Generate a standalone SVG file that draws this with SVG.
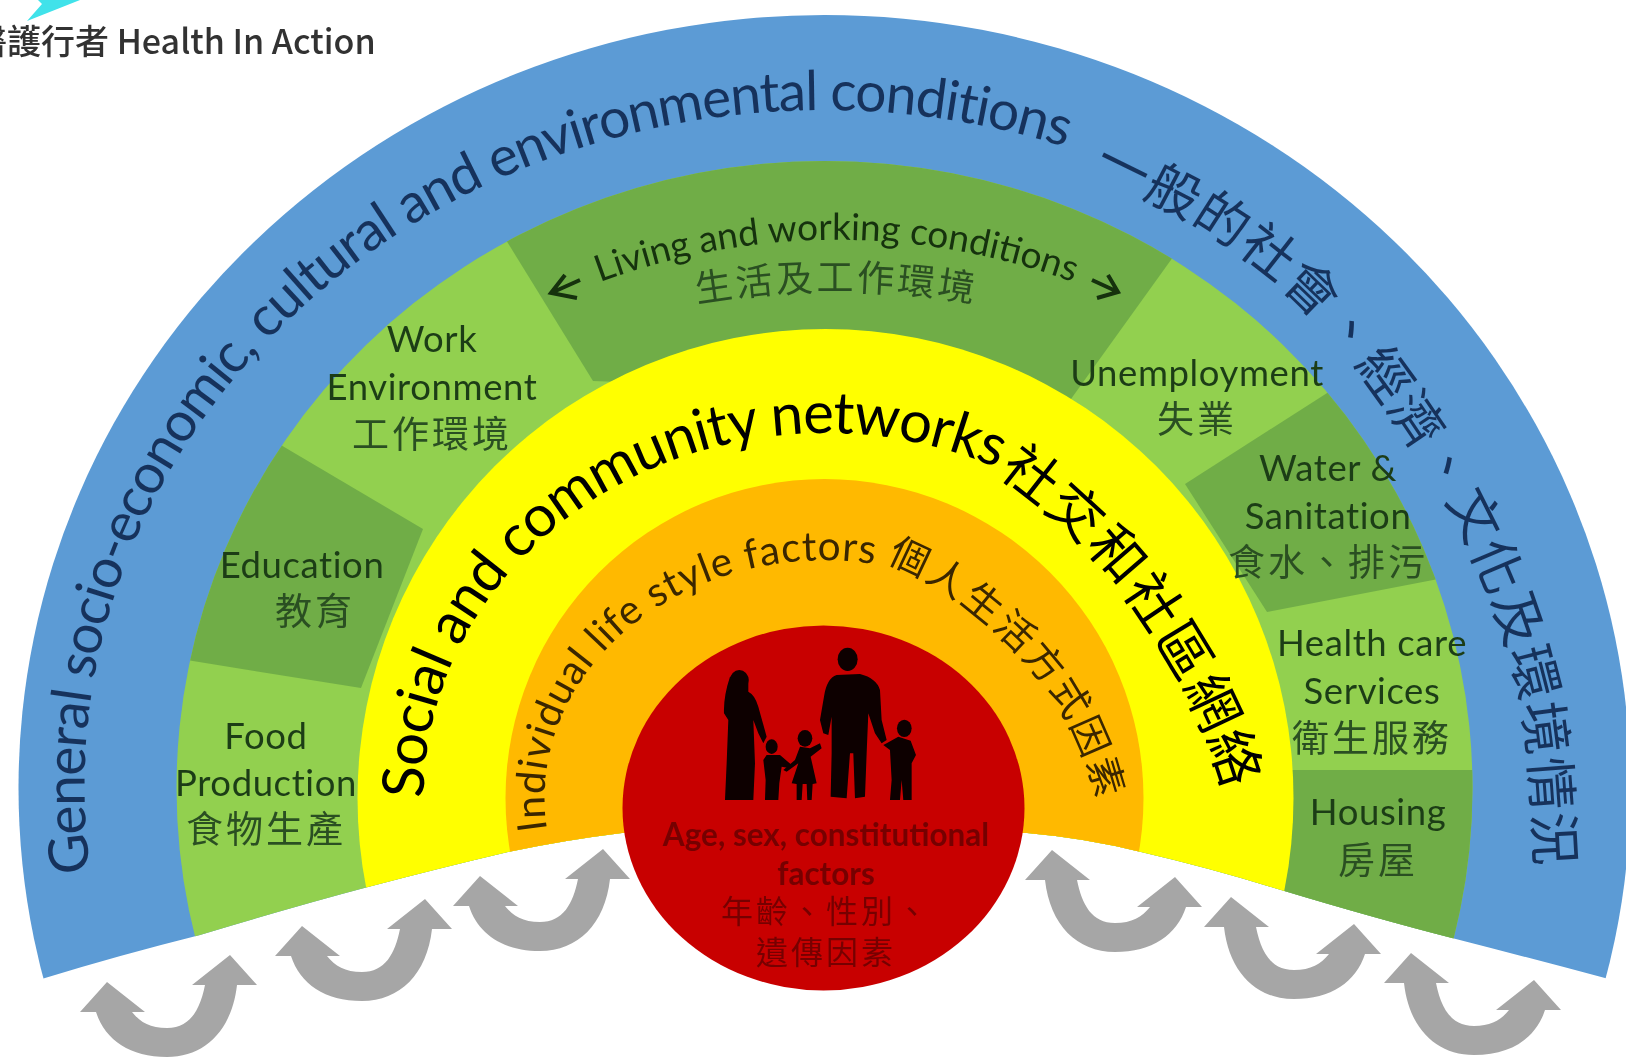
<svg xmlns="http://www.w3.org/2000/svg" width="1626" height="1060" viewBox="0 0 1626 1060">
<style>
text{font-family:"Lato","Noto Sans CJK TC","Noto Sans",sans-serif}
.lbl{font-size:36.5px;fill:#1d3d17;text-anchor:middle;letter-spacing:.6px}
.cjk{font-size:37px;fill:#2b4f22;text-anchor:middle;letter-spacing:3px}
.blue{font-size:55px;fill:#17325c}
.yel{font-size:58px;fill:#000}
.org{font-size:40.5px;fill:#3a2800}
.liv{font-size:37px;fill:#14300f}
.age{font-size:31.5px;fill:#760505;text-anchor:middle;font-weight:700}
.agec{font-size:32px;fill:#760505;text-anchor:middle;letter-spacing:3px}
.ar{fill:#a6a6a6}
.fam{fill:#0a0000}
</style>
<defs>
<filter id="soft" filterUnits="userSpaceOnUse" x="0" y="0" width="1626" height="1060"><feGaussianBlur stdDeviation="0.7"/></filter>
<clipPath id="bow"><path d="M-20,0H1646V990L1605,978Q1530,958 1452,938T1281,890Q1210,868 1141,852Q1085,838 1027,833H622Q565,840 508,852Q440,868 368,887T200,935Q120,955 45,978L-20,1000Z"/></clipPath>
<clipPath id="gr"><ellipse cx="824.5" cy="788" rx="648" ry="627"/></clipPath>
<path id="pb" d="M90.5,872A740,676 0 1 1 1558.5,872"/>
<path id="pb2" d="M1092,172C1112,182.500 1176.800,212.500 1212,235C1247.200,257.500 1275,279.500 1303,307C1331,334.500 1353.500,362.300 1380,400C1406.500,437.700 1438.700,484 1462,533C1485.300,582 1507.500,638 1520,694C1532.500,750 1534,840 1537,869"/>
<path id="py" d="M423.500,798A402,365 0 1 1 1227.500,798"/>
<path id="py2" d="M997,473C1040,505 1075,535 1102,566S1150,632 1170,665S1205,730 1217,767L1222,795"/>
<path id="po" d="M547,830A280,238 0 1 1 1102,830"/>
<path id="po2" d="M886,562C920,575 955,597 983,621S1025,660 1044,684S1075,735 1087,765S1096,800 1097,823"/>
<path id="pl" d="M598,283A680,680 0 0 1 1075,283"/>
<path id="pl2" d="M696,303A820,820 0 0 1 977,303"/>
<path id="u" d="M107,982L145,1012H132C140,1022 150,1028 167,1028C190,1028 200,1010 205,985H192L230,955L257,985H237C232,1030 205,1057 167,1057C130,1057 105,1040 96,1012H80Z"/>
</defs>
<g filter="url(#soft)">
<g id="rainbow" clip-path="url(#bow)">
<ellipse id="ring-blue" cx="824.5" cy="788" rx="806" ry="773" fill="#5b9bd5"/>
<ellipse id="ring-green" cx="824.5" cy="788" rx="648" ry="627" fill="#92d050"/>
<g clip-path="url(#gr)" fill="#70ad47">
<polygon points="155,655 361,688 423,529 252,428"/>
<polygon points="490,214 593,381 1071,399 1191,232 824,100"/>
<polygon points="1363,370 1185,484 1267,612 1459,575"/>
<polygon points="1284,770 1500,770 1500,1000 1284,1000"/>
</g>
<ellipse id="ring-yellow" cx="825.5" cy="798" rx="468" ry="469" fill="#ff0"/>
<ellipse id="ring-orange" cx="824.5" cy="798" rx="319" ry="319" fill="#ffb900"/>
</g>
<g id="label-general">
<text class="blue" letter-spacing="-1.2"><textPath href="#pb">General socio-economic, cultural and environmental conditions</textPath></text>
<text class="blue" style="font-size:53px" letter-spacing="1.7"><textPath href="#pb2">一般的社會、經濟、文化及環境情況</textPath></text>
</g>
<g id="label-social">
<text class="yel" letter-spacing="-1"><textPath href="#py">Social and community networks</textPath></text>
<text class="yel" style="font-size:55px" letter-spacing="2"><textPath href="#py2">社交和社區網絡</textPath></text>
</g>
<g id="label-individual">
<text class="org" letter-spacing=".9"><textPath href="#po">Individual life style factors</textPath></text>
<text class="org" style="font-size:39px" letter-spacing="2.500"><textPath href="#po2">個人生活方式因素</textPath></text>
</g>
<g id="node-living">
<text class="liv"><textPath href="#pl" startOffset="50%" text-anchor="middle">Living and working conditions</textPath></text>
<text class="cjk"><textPath href="#pl2" startOffset="50%">生活及工作環境</textPath></text>
</g>
<g id="node-work"><text class="lbl" x="432" y="352">Work</text><text class="lbl" x="432" y="400">Environment</text><text class="cjk" x="432" y="448">工作環境</text></g>
<g id="node-education"><text class="lbl" x="302" y="578">Education</text><text class="cjk" x="315" y="625">教育</text></g>
<g id="node-food"><text class="lbl" x="266" y="749">Food</text><text class="lbl" x="266" y="796">Production</text><text class="cjk" x="266" y="843">食物生產</text></g>
<g id="node-unemployment"><text class="lbl" x="1197" y="386">Unemployment</text><text class="cjk" x="1197" y="433">失業</text></g>
<g id="node-water"><text class="lbl" x="1328" y="481">Water &amp;</text><text class="lbl" x="1328" y="529">Sanitation</text><text class="cjk" x="1328" y="576">食水、排污</text></g>
<g id="node-health"><text class="lbl" x="1372" y="656">Health care</text><text class="lbl" x="1372" y="704">Services</text><text class="cjk" x="1372" y="752">衛生服務</text></g>
<g id="node-housing"><text class="lbl" x="1378" y="825">Housing</text><text class="cjk" x="1378" y="874">房屋</text></g>
<g id="node-core">
<ellipse cx="823.5" cy="808" rx="201" ry="182.5" fill="#c80000"/>
<g class="fam" transform="translate(620 620) scale(.3333)">
<ellipse cx="683" cy="118" rx="30" ry="35"/>
<path d="M650,165Q620,175 612,230L600,300L610,340L625,345L635,290L635,400L632,530L680,535L690,400L700,400L705,535L735,530L740,400L745,280L765,340L785,370L800,360L785,300L780,210Q770,175 720,162Z"/>
<ellipse cx="358" cy="180" rx="28" ry="30"/>
<path d="M330,170Q310,230 312,280L325,300L320,430L315,540L400,540L405,430L400,300L415,340L430,370L440,350L415,260Q405,225 385,215L385,170Z"/>
<ellipse cx="455" cy="380" rx="18" ry="22"/>
<path d="M440,405L430,420L437,480L435,540L475,540L478,490L485,440L510,445L515,435L480,405Z"/>
<ellipse cx="555" cy="355" rx="22" ry="25"/>
<path d="M540,380L525,420L490,450L500,455L535,430L515,490L530,492L530,540L545,540L548,492L560,492L562,540L575,540L578,492L590,490L572,410L605,385L600,370L570,385Z"/>
<ellipse cx="853" cy="325" rx="22" ry="26"/>
<path d="M835,350L800,370L790,375L810,390L815,480L810,540L840,540L845,480L850,540L875,540L875,430L888,405L872,362Z"/>
</g>
<text class="age" x="826" y="846">Age, sex, constitutional</text>
<text class="age" x="826" y="885">factors</text>
<text class="agec" x="826" y="923">年齡、性別、</text>
<text class="agec" x="826" y="964">遺傳因素</text>
</g>
<g id="connectors">
<use href="#u" class="ar"/>
<use href="#u" class="ar" transform="translate(195 -56)"/>
<use href="#u" class="ar" transform="translate(373 -106)"/>
<use href="#u" class="ar" transform="translate(1282 -105) scale(-1 1)"/>
<use href="#u" class="ar" transform="translate(1461 -58) scale(-1 1)"/>
<use href="#u" class="ar" transform="translate(1641 -2) scale(-1 1)"/>
<path d="M580,280L551,293M565,275L551,293L577,298" fill="none" stroke="#14300f" stroke-width="4"/>
<path d="M1092,280L1118,292M1108,275L1118,292L1097,298" fill="none" stroke="#14300f" stroke-width="4"/>
</g>
<g id="logo">
<polygon points="38,0 42,4 27,21 80,0" fill="#3fe2ea"/>
<text x="-27" y="54" font-size="34" font-weight="500" fill="#333" style="font-family:'Noto Sans CJK TC','Noto Sans',sans-serif">醫護行者 Health In Action</text>
</g>
</g>
</svg>
